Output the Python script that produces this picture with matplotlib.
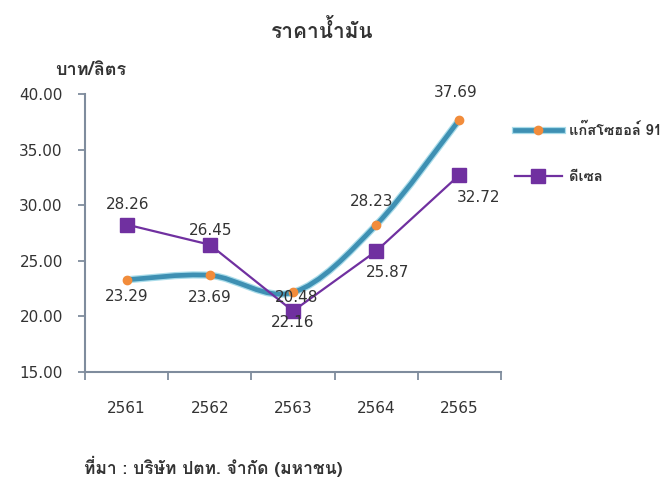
import matplotlib
matplotlib.use("Agg")
import matplotlib.pyplot as plt
import numpy as np
from matplotlib.path import Path
from matplotlib.patches import PathPatch
from matplotlib.lines import Line2D
from matplotlib.legend_handler import HandlerTuple
import matplotlib.patheffects as pe

# ---- data ----
years = ["2561", "2562", "2563", "2564", "2565"]
gasohol91 = [23.29, 23.69, 22.16, 28.23, 37.69]
diesel = [28.26, 26.45, 20.48, 25.87, 32.72]
gas_label_text = ["23.29", "23.69", "22.16", "28.23", "37.69"]
diesel_label_text = ["28.26", "26.45", "20.48", "25.87", "32.72"]
yticks = [15, 20, 25, 30, 35, 40]
series_names = ["แก๊สโซฮอล์ 91", "ดีเซล"]
title = "ราคาน้ำมัน"
unit_label = "บาท/ลิตร"
source = "ที่มา : บริษัท ปตท. จำกัด (มหาชน)"

# ---- style ----
THAI = ["Loma", "DejaVu Sans"]
NUM = ["DejaVu Sans"]
gas_col = "#3E90B3"
gas_glow = "#A9DCEA"
gas_mark = "#F28C3B"
dsl_col = "#7030A0"
axis_col = "#7F8C9D"
txt_col = "#333333"
glow = [pe.Stroke(linewidth=5.2, foreground=gas_glow), pe.Normal()]

# label offsets in pixels (dx, dy)
gas_off = [(0, -17), (0, -22), (0, -30), (-5, 23), (-4, 27)]
dsl_off = [(1, 20), (1, 14), (4, 14), (11, -21), (19, -23)]

W, H = 664, 478
fig = plt.figure(figsize=(W / 100, H / 100), dpi=100)
ax = fig.add_axes([85 / W, (H - 372) / H, (501 - 85) / W, (372 - 94) / H])

x = np.arange(len(years))


def smooth_path(xs, ys):
    P = np.column_stack([xs, ys]).astype(float)
    n = len(P)
    verts = [P[0]]
    codes = [Path.MOVETO]
    for i in range(n - 1):
        p0 = P[i - 1] if i > 0 else P[i]
        p1 = P[i]
        p2 = P[i + 1]
        p3 = P[i + 2] if i + 2 < n else P[i + 1]
        c1 = p1 + (p2 - p0) / 6.0
        c2 = p2 - (p3 - p1) / 6.0
        verts += [c1, c2, p2]
        codes += [Path.CURVE4] * 3
    return Path(verts, codes)


gpath = smooth_path(x, gasohol91)
ax.add_patch(PathPatch(gpath, fill=False, edgecolor=gas_col, lw=3.4,
                       capstyle="round", joinstyle="round", zorder=3,
                       path_effects=glow))
ax.plot(x, gasohol91, linestyle="none", marker="o", markersize=6,
        color=gas_mark, markeredgecolor=gas_mark, zorder=4)

ax.plot(x, diesel, color=dsl_col, lw=1.6, marker="s", markersize=9.5,
        markerfacecolor=dsl_col, markeredgecolor=dsl_col, zorder=5)

for xi, v, t, (dx, dy) in zip(x, gasohol91, gas_label_text, gas_off):
    ax.annotate(t, (xi, v), xytext=(dx, dy), textcoords="offset pixels",
                ha="center", va="center", fontsize=11, color=txt_col,
                family=NUM, zorder=6)
for xi, v, t, (dx, dy) in zip(x, diesel, diesel_label_text, dsl_off):
    ax.annotate(t, (xi, v), xytext=(dx, dy), textcoords="offset pixels",
                ha="center", va="center", fontsize=11, color=txt_col,
                family=NUM, zorder=6)

ax.set_xlim(-0.5, len(years) - 0.5)
ax.set_ylim(yticks[0], yticks[-1])
ax.set_yticks(yticks)
ax.set_yticklabels([f"{v:.2f}" for v in yticks], family=NUM, fontsize=11,
                   color=txt_col)
ax.set_xticks(x)
ax.set_xticklabels(years, family=NUM, fontsize=11, color=txt_col)
ax.set_xticks(np.arange(-0.5, len(years), 1.0), minor=True)
ax.tick_params(axis="x", which="major", length=0, pad=21)
ax.tick_params(axis="x", which="minor", length=6, width=1.3, color=axis_col,
               direction="out")
ax.tick_params(axis="y", which="major", length=5, width=1.3, color=axis_col,
               direction="out", pad=11)
for s in ["top", "right"]:
    ax.spines[s].set_visible(False)
for s in ["left", "bottom"]:
    ax.spines[s].set_color(axis_col)
    ax.spines[s].set_linewidth(1.5)

# legend
h_gas_line = Line2D([], [], color=gas_col, lw=3.4, path_effects=glow)
h_gas_mark = Line2D([], [], linestyle="none", marker="o", markersize=6,
                    markerfacecolor=gas_mark, markeredgecolor=gas_mark)
h_dsl = Line2D([], [], color=dsl_col, lw=1.6, marker="s", markersize=9.5,
               markerfacecolor=dsl_col, markeredgecolor=dsl_col)
leg = fig.legend([(h_gas_line, h_gas_mark), h_dsl], series_names,
                 loc="upper left",
                 bbox_to_anchor=(515 / W, 1 - 123 / H), frameon=False,
                 borderpad=0, borderaxespad=0, handlelength=3.2,
                 handletextpad=0.5, labelspacing=2.2, numpoints=1,
                 handler_map={tuple: HandlerTuple(ndivide=1, pad=0)},
                 prop={"family": THAI, "size": 10.5, "weight": "bold"})
for t in leg.get_texts():
    t.set_color(txt_col)

fig.text(322 / W, 1 - 31 / H, title, ha="center", va="center", fontsize=15,
         family=THAI, weight="bold", color=txt_col)
fig.text(91 / W, 1 - 70 / H, unit_label, ha="center", va="center",
         fontsize=13, family=THAI, weight="bold", color=txt_col)
fig.text(84 / W, 1 - 466 / H, source, ha="left", va="center", fontsize=12.5,
         family=THAI, weight="bold", color=txt_col)

fig.savefig("out.png", dpi=100, facecolor="white")
